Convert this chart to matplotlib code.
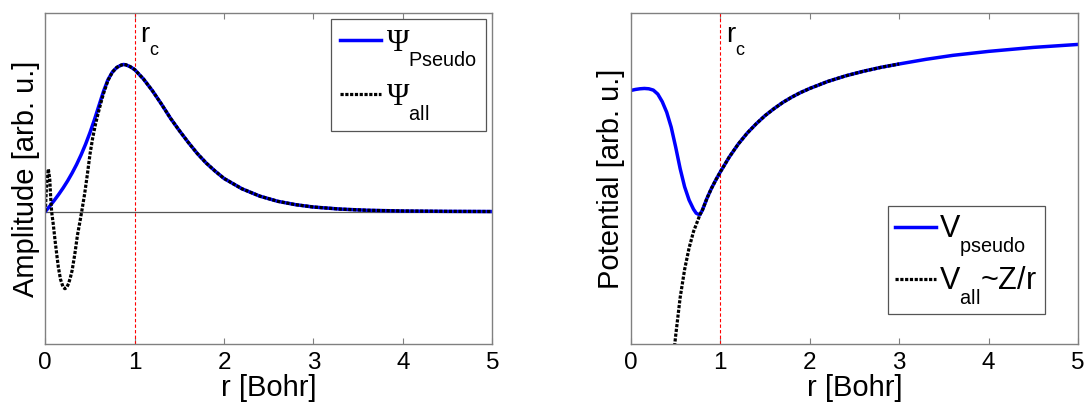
import matplotlib
matplotlib.use("Agg")
import matplotlib.pyplot as plt
import matplotlib._mathtext as mathtext_internal

plt.rcParams['font.family'] = ['Liberation Sans', 'DejaVu Sans']
plt.rcParams['mathtext.fontset'] = 'custom'
plt.rcParams['mathtext.rm'] = 'Liberation Serif'
plt.rcParams['mathtext.sf'] = 'Liberation Sans'
plt.rcParams['mathtext.it'] = 'Liberation Serif:italic'
# MATLAB-style subscripts: lower and a bit smaller than mathtext's default
mathtext_internal.FontConstantsBase.sub1 = 1.0
mathtext_internal.SHRINK_FACTOR = 0.65

# Left panel: wave functions (arb. units, peak = 1)
r_psi_pseudo = [0, 0.05, 0.1, 0.15, 0.2, 0.25, 0.3, 0.35, 0.4, 0.45, 0.5, 0.55,
                0.6, 0.65, 0.7, 0.75, 0.8, 0.85, 0.875, 0.9, 0.95, 1.0, 1.1, 1.2,
                1.3, 1.4, 1.5, 1.6, 1.7, 1.8, 1.9, 2.0, 2.2, 2.4, 2.6, 2.8, 3.0,
                3.3, 3.6, 4.0, 4.5, 5.0]
psi_pseudo = [0, 0.037, 0.076, 0.117, 0.161, 0.209, 0.262, 0.32, 0.385, 0.457, 0.537, 0.625,
              0.72, 0.815, 0.895, 0.948, 0.98, 0.996, 1.0, 0.998, 0.985, 0.965, 0.90, 0.82,
              0.73, 0.635, 0.55, 0.47, 0.395, 0.33, 0.275, 0.225, 0.155, 0.105, 0.07, 0.047, 0.031,
              0.017, 0.009, 0.004, 0.0015, 0.0005]

r_psi_all = [0, 0.01, 0.02, 0.034, 0.05, 0.06, 0.071, 0.09, 0.11, 0.13, 0.146, 0.17,
             0.2, 0.22, 0.24, 0.26, 0.28, 0.3, 0.33, 0.36, 0.39, 0.41, 0.44, 0.47,
             0.5, 0.53, 0.56, 0.59, 0.62, 0.65, 0.7, 0.75, 0.8, 0.85, 0.875, 0.9,
             0.95, 1.0, 1.1, 1.2, 1.3, 1.4, 1.5, 1.6, 1.7, 1.8, 1.9, 2.0, 2.2, 2.4,
             2.6, 2.8, 3.0, 3.3, 3.6, 4.0, 4.5, 5.0]
psi_all = [0, 0.13, 0.22, 0.29, 0.22, 0.10, 0.0, -0.09, -0.2, -0.3, -0.377, -0.46,
           -0.515, -0.524, -0.515, -0.49, -0.45, -0.40, -0.29, -0.16, -0.06, 0.01, 0.12, 0.25,
           0.39, 0.50, 0.59, 0.665, 0.735, 0.80, 0.89, 0.948, 0.98, 0.996, 1.0, 0.998,
           0.985, 0.965, 0.90, 0.82, 0.73, 0.635, 0.55, 0.47, 0.395, 0.33, 0.275, 0.225, 0.155, 0.105,
           0.07, 0.047, 0.031, 0.017, 0.009, 0.004, 0.0015, 0.0005]

# Right panel: potentials (arb. units)
r_v_pseudo = [0, 0.05, 0.1, 0.15, 0.2, 0.25, 0.3, 0.35, 0.4, 0.45, 0.5, 0.55, 0.6,
              0.65, 0.7, 0.73, 0.77, 0.8, 0.85, 0.9, 0.95, 1.0, 1.1, 1.2, 1.3, 1.4,
              1.5, 1.6, 1.7, 1.8, 1.9, 2.0, 2.2, 2.4, 2.6, 2.8, 3.0, 3.3, 3.6, 4.0,
              4.5, 5.0]
v_pseudo = [-2.34, -2.31, -2.29, -2.28, -2.29, -2.33, -2.45, -2.68, -3.0, -3.45, -4.05, -4.7, -5.25,
            -5.65, -5.93, -6.05, -6.1, -5.95, -5.6, -5.3, -5.04, -4.8, -4.35, -3.96, -3.63, -3.35,
            -3.1, -2.89, -2.70, -2.54, -2.40, -2.28, -2.07, -1.90, -1.76, -1.64, -1.54, -1.40, -1.28, -1.16,
            -1.04, -0.95]

r_v_all = [0.47, 0.5, 0.55, 0.6, 0.65, 0.7, 0.75, 0.77, 0.8, 0.85, 0.9, 0.95, 1.0, 1.1,
           1.2, 1.3, 1.4, 1.5, 1.6, 1.7, 1.8, 1.9, 2.0, 2.2, 2.4, 2.6, 2.8, 3.0]
v_all = [-10.5, -9.75, -8.6, -7.75, -7.1, -6.6, -6.25, -6.1, -5.95, -5.6, -5.3, -5.04, -4.8, -4.35,
         -3.96, -3.63, -3.35, -3.1, -2.89, -2.70, -2.54, -2.40, -2.28, -2.07, -1.90, -1.76, -1.64, -1.54]

r_cut = 1.0
x_ticks = [0, 1, 2, 3, 4, 5]

fig = plt.figure(figsize=(10.86, 4.11), dpi=100)
ax1 = fig.add_axes([0.0417, 0.163, 0.4116, 0.8054])
ax2 = fig.add_axes([0.581, 0.163, 0.4116, 0.8054])

dots = (0, (1, 0.5))

for ax in (ax1, ax2):
    ax.set_xlim(0, 5)
    ax.set_xticks(x_ticks)
    ax.set_yticks([])
    ax.tick_params(axis='x', direction='in', top=True, length=4, width=0.8,
                   color='#808080', labelsize=17.5, pad=6)
    for s in ax.spines.values():
        s.set_color('#808080')
        s.set_linewidth(1)
    ax.axvline(r_cut, color='red', lw=0.8, dashes=(3, 2))
    ax.text(1.06, 0.965, r'$\mathsf{r}_\mathsf{c}$', fontsize=20,
            transform=ax.get_xaxis_transform(), va='top', ha='left')
    ax.set_xlabel('r [Bohr]', fontsize=21, labelpad=0)

# left
ax1.set_ylim(-0.90, 1.35)
ax1.axhline(0, color='#555555', lw=0.9)
ax1.plot(r_psi_pseudo, psi_pseudo, color='blue', lw=2.5, label=r'$\Psi_{\mathsf{Pseudo}}$')
ax1.plot(r_psi_all, psi_all, color='black', lw=2.3, linestyle=dots, label=r'$\Psi_{\mathsf{all}}$')
ax1.set_ylabel('Amplitude [arb. u.]', fontsize=21, labelpad=4)
leg1 = ax1.legend(loc='upper right', bbox_to_anchor=(0.986, 0.982), borderaxespad=0,
                  fontsize=22, fancybox=False, edgecolor='#555555', framealpha=1,
                  handlelength=1.35, handletextpad=0.15, borderpad=0.3, labelspacing=0.45)
leg1.get_frame().set_linewidth(0.9)

# right
ax2.set_ylim(-10, 0)
ax2.plot(r_v_pseudo, v_pseudo, color='blue', lw=2.5, label=r'$\mathsf{V}_{\mathsf{pseudo}}$')
ax2.plot(r_v_all, v_all, color='black', lw=2.3, linestyle=dots,
         label=r'$\mathsf{V}_{\mathsf{all}}$~Z/r')
ax2.set_ylabel('Potential [arb. u.]', fontsize=21, labelpad=4)
leg2 = ax2.legend(loc='lower right', bbox_to_anchor=(0.926, 0.0906), borderaxespad=0,
                  fontsize=22, fancybox=False, edgecolor='#555555', framealpha=1,
                  handlelength=1.35, handletextpad=0.1, borderpad=0.25, labelspacing=0.2)
leg2.get_frame().set_linewidth(0.9)

fig.savefig('out.png', dpi=100)
